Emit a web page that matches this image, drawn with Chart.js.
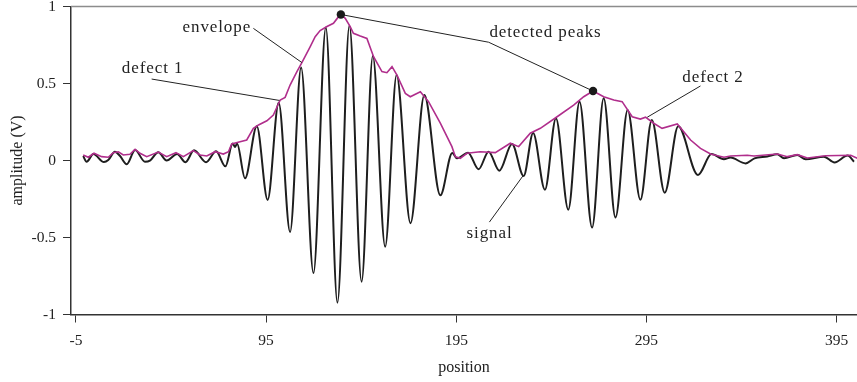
<!DOCTYPE html>
<html>
<head>
<meta charset="utf-8">
<script src="https://cdn.jsdelivr.net/npm/chart.js@4/dist/chart.umd.min.js"></script>
<style>
  html, body { margin: 0; padding: 0; background: #fff; }
  #wrap { width: 857px; height: 382px; }
</style>
</head>
<body>
<div id="wrap"><canvas id="chart" width="857" height="382"></canvas></div>
<script>
// Signal extrema (position, volts) - drawn with monotone interpolation
const signalPos = [-1.2, 0.6, 4.2, 9.7, 12.0, 15.5, 18.2, 21.7, 26.1, 31.3, 33.9, 38.3, 42.7, 48.2, 52.6,
  57.1, 63.4, 68.7, 73.6, 77.4, 78.7, 79.7, 83.9, 90.1, 95.8, 101.6, 107.6, 113.4, 119.9, 126.4,
  132.5, 138.8, 145.2, 151.1, 157.6, 163.6, 170.9, 178.2, 186.6, 192.9, 195.4, 201.2, 206.7, 212.0,
  217.6, 224.3, 230.4, 235.4, 241.6, 247.4, 253.9, 259.8, 266.4, 272.5, 278.7, 285.1, 291.8, 297.8,
  304.6, 311.7, 322.1, 329.2, 335.7, 339.2, 347.1, 351.8, 358.5, 363.8, 367.3, 374.3, 378.7, 388.3,
  393.9, 400.8, 404.1];
const signalAmp = [0.029, -0.008, 0.042, -0.010, 0.003, 0.057, 0.029, -0.025, 0.068, -0.008, -0.001, 0.054, 0.000, 0.042, -0.011,
  0.066, -0.011, 0.060, -0.038, 0.110, 0.088, 0.110, -0.116, 0.222, -0.256, 0.375, -0.464, 0.604, -0.731, 0.864,
  -0.923, 0.877, -0.787, 0.679, -0.560, 0.555, -0.407, 0.425, -0.226, 0.049, 0.014, 0.051, -0.057, 0.057,
  -0.066, 0.107, -0.101, 0.179, -0.190, 0.274, -0.319, 0.382, -0.435, 0.404, -0.370, 0.328, -0.255, 0.263,
  -0.209, 0.222, -0.094, 0.042, 0.008, 0.019, -0.019, 0.014, 0.026, 0.040, 0.014, 0.036, 0.008, 0.025,
  -0.013, 0.032, -0.008];

// Envelope
const envelopePos = [-1.2, 1.5, 4.5, 8.5, 12.0, 14.6, 17.3, 19.9, 23.4, 26.1, 28.7, 32.2, 38.3, 42.7, 47.6,
  51.5, 56.7, 60.3, 63.8, 68.2, 72.5, 75.2, 76.9, 81.3, 84.8, 88.3, 91.0, 95.4, 98.8, 102.4,
  105.0, 107.6, 111.2, 113.8, 118.2, 120.8, 123.4, 127.0, 130.4, 133.1, 134.3, 136.6, 139.2, 140.9, 144.5,
  148.0, 151.5, 155.9, 158.5, 161.2, 163.8, 168.2, 170.8, 176.1, 180.4, 186.6, 192.7, 194.5, 197.1,
  200.6, 207.6, 215.5, 223.4, 227.8, 233.9, 239.2, 248.0, 256.7, 262.0, 266.9, 272.5, 277.8, 282.2,
  287.5, 291.8, 294.5, 298.8, 303.2, 311.2, 318.2, 323.4, 328.7, 335.7, 339.2, 348.0, 351.5, 363.8,
  369.1, 374.3, 379.6, 389.2, 402.4, 406.1];
const envelopeAmp = [0.036, 0.021, 0.047, 0.025, 0.021, 0.051, 0.057, 0.036, 0.040, 0.073, 0.047, 0.025, 0.055, 0.025, 0.051,
  0.025, 0.064, 0.036, 0.029, 0.057, 0.042, 0.057, 0.107, 0.122, 0.133, 0.209, 0.231, 0.258, 0.295, 0.393,
  0.410, 0.490, 0.577, 0.636, 0.740, 0.804, 0.844, 0.870, 0.891, 0.934, 0.948, 0.923, 0.869, 0.826, 0.808,
  0.793, 0.674, 0.577, 0.570, 0.609, 0.555, 0.436, 0.414, 0.447, 0.382, 0.242, 0.090, 0.025, 0.014,
  0.047, 0.057, 0.051, 0.112, 0.090, 0.177, 0.209, 0.284, 0.360, 0.414, 0.451, 0.414, 0.393, 0.382,
  0.284, 0.269, 0.281, 0.242, 0.209, 0.237, 0.133, 0.079, 0.042, 0.021, 0.029, 0.034, 0.029, 0.042,
  0.025, 0.038, 0.016, 0.031, 0.034, 0.014];

// Detected peaks on the envelope
const peakPos = [134.3, 266.9];
const peakAmp = [0.948, 0.451];

const xTicks = [-5, 95, 195, 295, 395];
const yTicks = [-1, -0.5, 0, 0.5, 1];
const yTickLabels = ['-1', '-0.5', '0', '0.5', '1'];

const toPoints = (xs, ys) => xs.map((x, i) => ({ x: x, y: ys[i] }));

// Labels with leader lines, in data coordinates
const callouts = [
  { text: 'envelope', at: [87.1, 0.864], align: 'right', path: [[88.3, 0.858], [113.8, 0.636]] },
  { text: 'defect 1', at: [35.3, 0.594], align: 'center', path: [[34.8, 0.529], [102.0, 0.390]] },
  { text: 'detected peaks', at: [212.4, 0.828], align: 'left',
    path: [[peakPos[0], peakAmp[0]], [212.0, 0.768], [peakPos[1], peakAmp[1]]] },
  { text: 'defect 2', at: [330.0, 0.539], align: 'center', path: [[323.4, 0.484], [295.4, 0.281]] },
  { text: 'signal', at: [212.5, -0.477], align: 'center', path: [[212.4, -0.400], [230.4, -0.094]] }
];

const FONT = '"Liberation Serif", "Times New Roman", serif';
Chart.defaults.font.family = FONT;
Chart.defaults.color = '#222';

const calloutPlugin = {
  id: 'callouts',
  afterDatasetsDraw(chart) {
    const { ctx, chartArea, scales: { x, y } } = chart;
    ctx.save();
    // top frame line
    ctx.strokeStyle = '#8c8c8c';
    ctx.lineWidth = 1.5;
    ctx.beginPath();
    ctx.moveTo(chartArea.left, chartArea.top);
    ctx.lineTo(chartArea.right, chartArea.top);
    ctx.stroke();

    ctx.strokeStyle = '#222';
    ctx.lineWidth = 1;
    callouts.forEach(c => {
      ctx.beginPath();
      c.path.forEach((p, i) => {
        const px = x.getPixelForValue(p[0]);
        const py = y.getPixelForValue(p[1]);
        if (i === 0) ctx.moveTo(px, py); else ctx.lineTo(px, py);
      });
      ctx.stroke();
    });

    ctx.fillStyle = '#222';
    ctx.font = '17px ' + FONT;
    if ('letterSpacing' in ctx) ctx.letterSpacing = '0.9px';
    ctx.textBaseline = 'middle';
    callouts.forEach(c => {
      ctx.textAlign = c.align;
      ctx.fillText(c.text, x.getPixelForValue(c.at[0]), y.getPixelForValue(c.at[1]));
    });

    // peak markers above the leader lines
    ctx.fillStyle = '#1a1a1a';
    peakPos.forEach((p, i) => {
      ctx.beginPath();
      ctx.arc(x.getPixelForValue(p), y.getPixelForValue(peakAmp[i]), 4.2, 0, Math.PI * 2);
      ctx.fill();
    });
    ctx.restore();
  }
};

const ctx = document.getElementById('chart').getContext('2d');
new Chart(ctx, {
  type: 'line',
  data: {
    datasets: [
      {
        label: 'envelope',
        data: toPoints(envelopePos, envelopeAmp),
        borderColor: '#b02e8c',
        borderWidth: 1.6,
        pointRadius: 0,
        tension: 0,
        order: 1
      },
      {
        label: 'signal',
        data: toPoints(signalPos, signalAmp),
        borderColor: '#1e1e1e',
        borderWidth: 2,
        pointRadius: 0,
        cubicInterpolationMode: 'monotone',
        order: 2
      }
    ]
  },
  options: {
    responsive: false,
    animation: false,
    events: [],
    layout: { padding: { top: 6.5, right: 0, bottom: 0, left: 0 } },
    plugins: { legend: { display: false }, tooltip: { enabled: false } },
    scales: {
      x: {
        type: 'linear',
        min: -7.6,
        max: 405.7,
        afterBuildTicks: s => { s.ticks = xTicks.map(v => ({ value: v })); },
        afterFit: s => { s.height = 67.5; s.paddingLeft = 0; s.paddingRight = 0; },
        ticks: { font: { size: 15.5 }, color: '#222', padding: 9, maxRotation: 0 },
        grid: { drawOnChartArea: false, drawTicks: true, tickLength: 8, tickColor: '#333', lineWidth: 1 },
        border: { display: true, color: '#333', width: 1.5 },
        title: { display: true, text: 'position', font: { size: 16 }, color: '#222', padding: { top: 0, bottom: 4.5 } }
      },
      y: {
        type: 'linear',
        min: -1,
        max: 1,
        afterBuildTicks: s => { s.ticks = yTicks.map(v => ({ value: v })); },
        afterFit: s => { s.width = 71; s.paddingTop = 0; s.paddingBottom = 0; },
        ticks: {
          font: { size: 15.5 }, color: '#222', padding: 7,
          callback: v => yTickLabels[yTicks.indexOf(v)]
        },
        grid: { drawOnChartArea: false, drawTicks: true, tickLength: 8, tickColor: '#333', lineWidth: 1 },
        border: { display: true, color: '#333', width: 1.5 },
        title: { display: true, text: 'amplitude (V)', font: { size: 16 }, color: '#222', padding: { top: 8, bottom: 0 } }
      }
    }
  },
  plugins: [calloutPlugin]
});
</script>
</body>
</html>
